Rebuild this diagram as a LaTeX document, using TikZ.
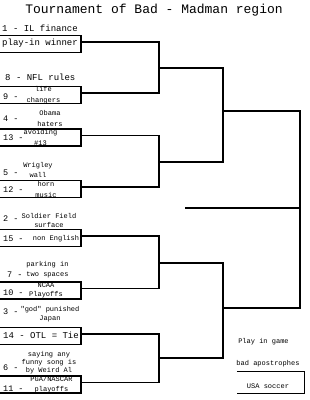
\documentclass[tikz,border=0pt]{standalone}
\usepackage{fontspec}
\newfontfamily\mono{Liberation Mono}
\begin{document}
\begin{tikzpicture}[x=1pt,y=-1pt,
  brk/.style={line width=1.3pt},
  seedbox/.style={draw, line width=1.3pt, minimum width=83pt, minimum height=17pt, inner sep=0pt},
  big/.style={font=\mono\fontsize{9}{10}\selectfont, inner sep=0pt},
  seedlbl/.style={font=\mono\fontsize{8.5}{10}\selectfont, inner sep=0pt, anchor=west},
  smalltxt/.style={font=\mono\fontsize{7}{#1}\selectfont, align=center, inner sep=0pt},
  titletxt/.style={font=\mono\fontsize{13}{15}\selectfont, inner sep=0pt}]
\useasboundingbox (0,0) rectangle (310,400);

% title
\node[titletxt] (title) at (154,10) {Tournament of Bad - Madman region};

% boxes (left edge outside the page)
\node[seedbox] (b1) at (39.5,44) {};
\node[seedbox] (b2) at (39.5,95) {};
\node[seedbox] (b3) at (39.5,137.5) {};
\node[seedbox] (b4) at (39.5,189) {};
\node[seedbox] (b5) at (39.5,238) {};
\node[seedbox] (b6) at (39.5,290.5) {};
\node[seedbox] (b7) at (39.5,336) {};
\node[seedbox] (b8) at (39.5,384.5) {};

% pair 1
\node[big, anchor=west] (t1) at (2,28) {1 - IL finance};
\node[big, anchor=west] (t16) at (2,43.5) {play-in winner};
\node[big, anchor=west] (t8) at (5,77) {8 - NFL rules};
\node[seedlbl] (s9) at (3,96.5) {9 -};
\node[smalltxt=11] (t9) at (43.5,95.5) {life\\changers};

% pair 2
\node[seedlbl] (s4) at (3,118.5) {4 -};
\node[smalltxt=11] (t4) at (50,118.5) {Obama\\haters};
\node[seedlbl] (s13) at (3,137.5) {13 -};
\node[smalltxt=11] (t13) at (40.5,137.5) {avoiding\\\#13};

% pair 3
\node[seedlbl] (s5) at (3,172.5) {5 -};
\node[smalltxt=10] (t5) at (38,170) {Wrigley\\wall};
\node[seedlbl] (s12) at (3,190) {12 -};
\node[smalltxt=11] (t12) at (46,189.5) {horn\\music};

% pair 4
\node[seedlbl] (s2) at (3,218.5) {2 -};
\node[smalltxt=9] (t2) at (49,220.5) {Soldier Field\\surface};
\node[seedlbl] (s15) at (3,238.5) {15 -};
\node[smalltxt=9] (t15) at (56,239) {non English};

% pair 5
\node[smalltxt=10] (t7) at (47.5,270) {parking in\\two spaces};
\node[seedlbl] (s7) at (7,275) {7 -};
\node[seedlbl] (s10) at (3,292.5) {10 -};
\node[smalltxt=8.5] (t10) at (46,290.5) {NCAA\\Playoffs};

% pair 6
\node[seedlbl] (s3) at (3,312) {3 -};
\node[smalltxt=9] (t3) at (50,314) {"god" punished\\Japan};
\node[big, anchor=west] (t14) at (3,335.5) {14 - OTL = Tie};

% pair 7
\node[smalltxt=8] (t6) at (49,362.5) {saying any\\funny song is\\by Weird Al};
\node[seedlbl] (s6) at (3,368) {6 -};
\node[seedlbl] (s11) at (3,388.5) {11 -};
\node[smalltxt=10] (t11) at (51.5,384.5) {PGA/NASCAR\\playoffs};

% bracket joins
\coordinate (m1) at (159,68);
\coordinate (m2) at (159,162);
\coordinate (m3) at (159,263);
\coordinate (m4) at (159,358);
\coordinate (q1) at (223,111);
\coordinate (q2) at (223,308);
\coordinate (sf) at (300,208);
\coordinate (champ) at (185,208);

\draw[brk] ([yshift=-7pt]b1.north east) -| (m1) |- ([yshift=-7pt]b2.north east);
\draw[brk] ([yshift=-7pt]b3.north east) -| (m2) |- ([yshift=-7pt]b4.north east);
\draw[brk] ([yshift=-7pt]b5.north east) -| (m3) |- ([yshift=-7pt]b6.north east);
\draw[brk] ([yshift=-7pt]b7.north east) -| (m4) |- ([yshift=-7pt]b8.north east);
\draw[brk] (m1) -| (q1) |- (m2);
\draw[brk] (m3) -| (q2) |- (m4);
\draw[brk] (q1) -| (sf) |- (q2);
\draw[brk] (sf) -- (champ);

% play-in game
\node[smalltxt=9] (pig) at (263.5,341.7) {Play in game};
\node[smalltxt=9] (bad) at (268,363.3) {bad apostrophes};
\node[minimum width=67pt, minimum height=21.6pt, inner sep=0pt] (usa) at (270.5,382.5) {};
\draw[brk] (usa.north west) -- (usa.north east) -- (usa.south east) -- (usa.south west);
\node[smalltxt=9] (usatxt) at (268,386) {USA soccer};
\end{tikzpicture}
\end{document}
